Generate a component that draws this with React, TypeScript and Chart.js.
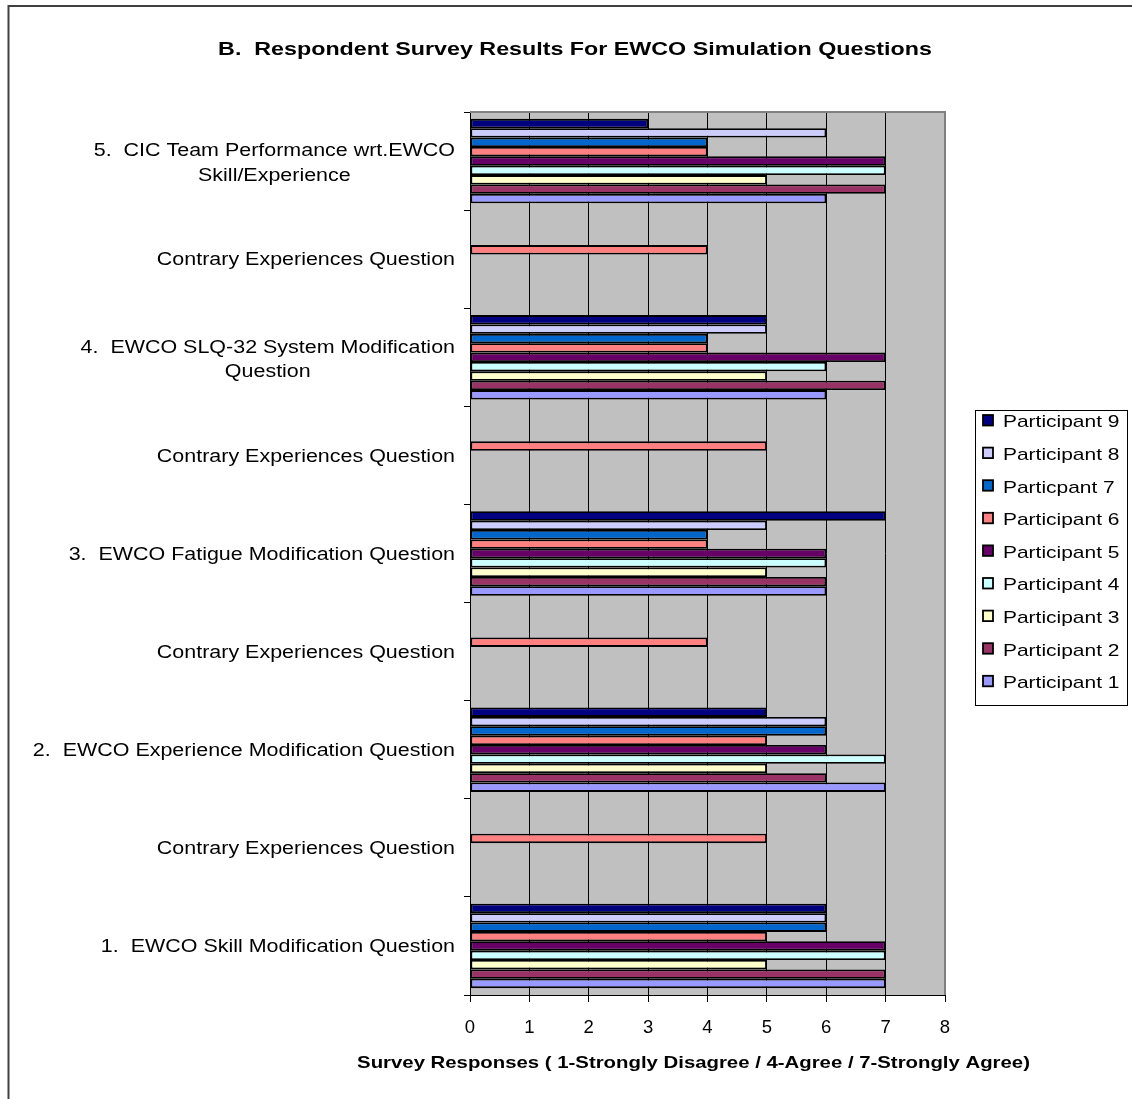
import React, { useEffect, useRef } from "react";
import { Chart, registerables } from "chart.js";

Chart.register(...registerables);

const TITLE = "B.  Respondent Survey Results For EWCO Simulation Questions";
const X_TITLE = "Survey Responses ( 1-Strongly Disagree / 4-Agree / 7-Strongly Agree)";

// Categories from top to bottom (each entry = lines of the label)
const CATEGORIES: string[][] = [
  ["5.  CIC Team Performance wrt.EWCO", "Skill/Experience"],
  ["Contrary Experiences Question"],
  ["4.  EWCO SLQ-32 System Modification", "Question"],
  ["Contrary Experiences Question"],
  ["3.  EWCO Fatigue Modification Question"],
  ["Contrary Experiences Question"],
  ["2.  EWCO Experience Modification Question"],
  ["Contrary Experiences Question"],
  ["1.  EWCO Skill Modification Question"],
];

const X_MIN = 0;
const X_MAX = 8;

const SERIES_LABELS = [
  "Participant 9",
  "Participant 8",
  "Particpant 7",
  "Participant 6",
  "Participant 5",
  "Participant 4",
  "Participant 3",
  "Participant 2",
  "Participant 1",
];

const P9 = [3, null, 5, null, 7, null, 5, null, 6];
const P8 = [6, null, 5, null, 5, null, 6, null, 6];
const P7 = [4, null, 4, null, 4, null, 6, null, 6];
const P6 = [4, 4, 4, 5, 4, 4, 5, 5, 5];
const P5 = [7, null, 7, null, 6, null, 6, null, 7];
const P4 = [7, null, 6, null, 6, null, 7, null, 7];
const P3 = [5, null, 5, null, 5, null, 5, null, 5];
const P2 = [7, null, 7, null, 6, null, 6, null, 7];
const P1 = [6, null, 6, null, 6, null, 7, null, 7];

const SERIES_VALUES = [P9, P8, P7, P6, P5, P4, P3, P2, P1];
const SERIES_COLORS = [
  "#000080",
  "#CCCCFF",
  "#0066CC",
  "#FF8080",
  "#660066",
  "#CCFFFF",
  "#FFFFCC",
  "#993366",
  "#9999FF",
];

const FAMILY = "'Liberation Sans', Arial, Helvetica, sans-serif";

function sText(
  ctx: CanvasRenderingContext2D,
  text: string,
  x: number,
  y: number,
  align: "left" | "right" | "center",
  font: string,
  sx: number
) {
  ctx.save();
  ctx.font = font;
  ctx.textBaseline = "alphabetic";
  ctx.textAlign = "left";
  const w = ctx.measureText(text).width * sx;
  const x0 = align === "left" ? x : align === "right" ? x - w : x - w / 2;
  ctx.translate(x0, y);
  ctx.scale(sx, 1);
  ctx.fillStyle = "#000";
  ctx.fillText(text, 0, 0);
  ctx.restore();
}

const decor = {
  id: "decor",
  beforeDraw(chart: any) {
    const { ctx, chartArea: a } = chart;
    ctx.save();
    ctx.fillStyle = "#ffffff";
    ctx.fillRect(0, 0, chart.width, chart.height);
    ctx.fillStyle = "#C0C0C0";
    ctx.fillRect(a.left, a.top, a.right - a.left, a.bottom - a.top);
    ctx.strokeStyle = "#404040";
    ctx.lineWidth = 2;
    ctx.beginPath();
    ctx.moveTo(8.5, chart.height);
    ctx.lineTo(8.5, 6);
    ctx.lineTo(chart.width, 6);
    ctx.stroke();
    ctx.restore();
  },
  afterDraw(chart: any) {
    const { ctx, chartArea: a } = chart;
    ctx.save();
    // plot border (top / right)
    ctx.strokeStyle = "#808080";
    ctx.lineWidth = 2;
    ctx.beginPath();
    ctx.moveTo(a.left, a.top);
    ctx.lineTo(a.right, a.top);
    ctx.lineTo(a.right, a.bottom);
    ctx.stroke();
    ctx.restore();

    // Title
    sText(ctx, TITLE, 575, 55, "center", `bold 19px ${FAMILY}`, 1.225);
    // X axis title
    sText(ctx, X_TITLE, 693.5, 1068, "center", `bold 17px ${FAMILY}`, 1.197);

    // Category labels
    const yScale = chart.scales.y;
    const lf = `17.5px ${FAMILY}`;
    const lsx = 1.226;
    CATEGORIES.forEach((lines, i) => {
      const c = yScale.getPixelForValue(i);
      ctx.save();
      ctx.font = lf;
      const widths = lines.map((l) => ctx.measureText(l).width * lsx);
      ctx.restore();
      const bw = Math.max(...widths);
      const cx = 455 - bw / 2;
      const n = lines.length;
      lines.forEach((l, j) => {
        const capC = n === 1 ? c : c + 1.5 + (j - (n - 1) / 2) * 24.7;
        sText(ctx, l, cx, capC + 6.2, "center", lf, lsx);
      });
    });

    // Legend
    ctx.save();
    ctx.strokeStyle = "#000";
    ctx.lineWidth = 1;
    ctx.strokeRect(975.5, 410.5, 152, 295);
    ctx.restore();
    chart.data.datasets.forEach((ds: any, i: number) => {
      const top = 415 + i * 32.6;
      ctx.save();
      ctx.fillStyle = ds.backgroundColor;
      ctx.fillRect(983, top, 10, 10.5);
      ctx.strokeStyle = "#000";
      ctx.lineWidth = 1.8;
      ctx.strokeRect(983, top, 10, 10.5);
      ctx.restore();
      sText(ctx, ds.label, 1003, top + 12.4, "left", `17px ${FAMILY}`, 1.232);
    });
  },
};

export default function App() {
  const ref = useRef<HTMLCanvasElement>(null);

  useEffect(() => {
    if (!ref.current) return;
    Chart.defaults.font.family = FAMILY;
    const chart = new Chart(ref.current, {
      type: "bar",
      data: {
        labels: CATEGORIES.map((l) => l.join(" ")),
        datasets: SERIES_LABELS.map((label, i) => ({
          label,
          data: SERIES_VALUES[i],
          backgroundColor: SERIES_COLORS[i],
          borderColor: "#000",
          borderWidth: 1.8,
          borderSkipped: false,
          categoryPercentage: 0.86,
          barPercentage: 1.0,
        })),
      },
      options: {
        indexAxis: "y",
        responsive: false,
        animation: false,
        layout: { padding: { top: 112, right: 187, bottom: 0, left: 0 } },
        plugins: {
          legend: { display: false },
          title: { display: false },
          tooltip: { enabled: false },
        },
        scales: {
          x: {
            type: "linear",
            position: "bottom",
            min: X_MIN,
            max: X_MAX,
            ticks: {
              stepSize: 1,
              color: "#000",
              padding: 15,
              font: { size: 18.5, family: FAMILY },
            },
            grid: {
              color: (c: any) => (c.tick && c.tick.value === X_MAX ? "#808080" : "#000"),
              lineWidth: 1,
              tickColor: "#000",
              tickLength: 7,
            },
            border: { color: "#000", width: 1 },
            afterFit: (scale: any) => {
              scale.height = 104;
            },
          },
          y: {
            type: "category",
            position: "left",
            offset: true,
            ticks: { display: false },
            grid: {
              offset: true,
              drawOnChartArea: false,
              tickLength: 6,
              tickColor: "#000",
              color: "#000",
            },
            border: { color: "#000", width: 1 },
            afterFit: (scale: any) => {
              scale.width = 470;
            },
          },
        },
      },
      plugins: [decor],
    });
    return () => chart.destroy();
  }, []);

  return (
    <canvas
      ref={ref}
      width={1132}
      height={1099}
      style={{ position: "absolute", left: 0, top: 0, width: 1132, height: 1099 }}
    />
  );
}
